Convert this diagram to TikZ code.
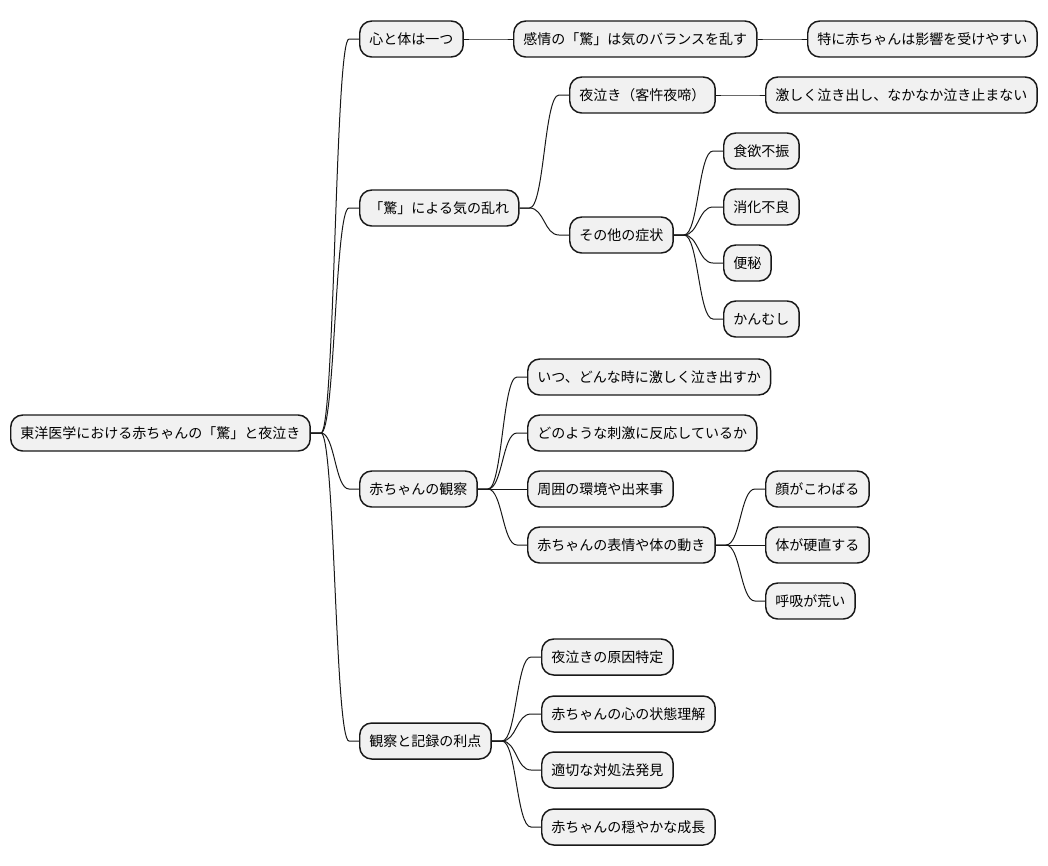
\documentclass[tikz,border=0pt]{standalone}
\usepackage{fontspec}
\setmainfont{Noto Sans CJK JP}
\usepackage{tikz}
\usetikzlibrary{calc}
\definecolor{boxfill}{HTML}{F1F1F1}
\definecolor{boxline}{HTML}{181818}
\newcommand{\mmlink}[2]{%
  \draw[link] let \p1=(#1.east), \p2=(#2.west) in
    (\p1) -- ++(7.5pt,0)
    .. controls ({0.5*(\x1+\x2)},\y1) and ({0.5*(\x1+\x2)},\y2) ..
    ({\x2-7.5pt},\y2) -- (\p2);}

\begin{document}
\begin{tikzpicture}[
    x=0.75pt, y=-0.75pt,
    mm/.style={draw=boxline, line width=1.1pt, fill=boxfill, rounded corners=9pt,
      minimum height=27pt, inner xsep=7.3pt, inner ysep=0pt, anchor=west,
      font=\fontsize{10.5}{12}\selectfont},
    link/.style={draw=boxline, line width=0.75pt}
    ]
    \useasboundingbox (0,0) rectangle (1048,865);
    \node[mm] (root) at (10,433) {東洋医学における赤ちゃんの「驚」と夜泣き};
    \node[mm] (a) at (359,39) {心と体は一つ};
    \node[mm] (a1) at (513,39) {感情の「驚」は気のバランスを乱す};
    \node[mm] (a11) at (807,39) {特に赤ちゃんは影響を受けやすい};
    \node[mm] (b) at (359,208) {「驚」による気の乱れ};
    \node[mm] (b1) at (569,95) {夜泣き（客忤夜啼）};
    \node[mm] (b11) at (765,95) {激しく泣き出し、なかなか泣き止まない};
    \node[mm] (b2) at (569,235) {その他の症状};
    \node[mm] (b21) at (723,151) {食欲不振};
    \node[mm] (b22) at (723,207) {消化不良};
    \node[mm] (b23) at (723,263) {便秘};
    \node[mm] (b24) at (723,319) {かんむし};
    \node[mm] (c) at (359,489) {赤ちゃんの観察};
    \node[mm] (c1) at (527,377) {いつ、どんな時に激しく泣き出すか};
    \node[mm] (c2) at (527,433) {どのような刺激に反応しているか};
    \node[mm] (c3) at (527,489) {周囲の環境や出来事};
    \node[mm] (c4) at (527,545) {赤ちゃんの表情や体の動き};
    \node[mm] (c41) at (765,489) {顔がこわばる};
    \node[mm] (c42) at (765,545) {体が硬直する};
    \node[mm] (c43) at (765,601) {呼吸が荒い};
    \node[mm] (d) at (359,741) {観察と記録の利点};
    \node[mm] (d1) at (541,657) {夜泣きの原因特定};
    \node[mm] (d2) at (541,714) {赤ちゃんの心の状態理解};
    \node[mm] (d3) at (541,770) {適切な対処法発見};
    \node[mm] (d4) at (541,827) {赤ちゃんの穏やかな成長};
    % branches
    \mmlink{root}{a}
    \mmlink{root}{b}
    \mmlink{root}{c}
    \mmlink{root}{d}
    \mmlink{a}{a1}
    \mmlink{a1}{a11}
    \mmlink{b}{b1}
    \mmlink{b}{b2}
    \mmlink{b1}{b11}
    \mmlink{b2}{b21}
    \mmlink{b2}{b22}
    \mmlink{b2}{b23}
    \mmlink{b2}{b24}
    \mmlink{c}{c1}
    \mmlink{c}{c2}
    \mmlink{c}{c3}
    \mmlink{c}{c4}
    \mmlink{c4}{c41}
    \mmlink{c4}{c42}
    \mmlink{c4}{c43}
    \mmlink{d}{d1}
    \mmlink{d}{d2}
    \mmlink{d}{d3}
    \mmlink{d}{d4}
  \end{tikzpicture}
\end{document}
